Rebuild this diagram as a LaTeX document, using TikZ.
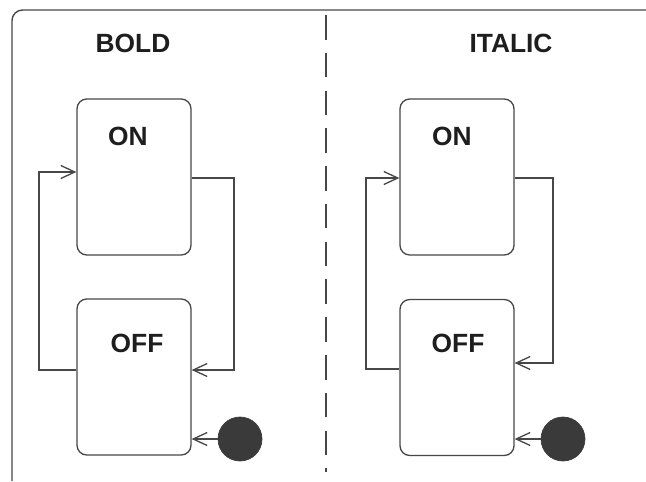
\documentclass[tikz,border=0pt]{standalone}
\usepackage{fontspec}
\setsansfont{Liberation Sans}
\usepackage{xcolor}
\usepackage{tikz}
\usetikzlibrary{positioning,arrows.meta,calc}
\definecolor{ink}{HTML}{1E1E1E}
\definecolor{wire}{HTML}{474747}
\definecolor{blob}{HTML}{3A3A3A}
\tikzset{
  ttl/.style={font=\sffamily\bfseries\fontsize{15}{18}\selectfont, text=ink, inner sep=0pt},
}
\begin{document}
\begin{tikzpicture}[x=0.02cm, y=-0.02cm,
  state/.style={rectangle, rounded corners=5.5pt, draw=wire, line width=0.75pt, fill=white, minimum width=2.28cm, minimum height=3.12cm, inner sep=0pt},
  init/.style={circle, fill=blob, draw=blob, minimum size=0.88cm, inner sep=0pt},
  trans/.style={-{Straight Barb[length=2.8mm, width=2.6mm]}, line width=0.75pt, wire}]
\useasboundingbox (0,0) rectangle (646,481);
% frame and divider
\draw[wire, line width=0.8pt, rounded corners=6pt] (12,481) -- (12,10) -- (646,10);
\draw[wire, line width=0.6pt, dash pattern=on 14pt off 7.5pt] (326,15) -- (326,472);
% BOLD
\node[ttl] (bold) at (133,43) {BOLD};
\node[state] (on1) at (134,177) {};
\node[state] (off1) at (134,377) {};
\node[ttl] (on1t) at (128,136) {ON};
\node[ttl] (off1t) at (137,343) {OFF};
\node[init] (init1) at (240,439) {};
\draw[trans] (off1.west |- 0,370) -| (39,172) -- (on1.west |- 0,172);
\draw[trans] (on1.east |- 0,178) -| (234,370) -- (off1.east |- 0,370);
\draw[trans] (init1) -- (off1.east |- init1);
% ITALIC
\node[ttl] (italic) at (511,43) {ITALIC};
\node[state] (on2) at (457,177) {};
\node[state] (off2) at (457,377.5) {};
\node[ttl] (on2t) at (452,136) {ON};
\node[ttl] (off2t) at (458,343) {OFF};
\node[init] (init2) at (563,439) {};
\draw[trans] (off2.west |- 0,369) -| (366,178) -- (on2.west |- 0,178);
\draw[trans] (on2.east |- 0,178) -| (553,363) -- (off2.east |- 0,363);
\draw[trans] (init2) -- (off2.east |- init2);
\end{tikzpicture}
\end{document}
